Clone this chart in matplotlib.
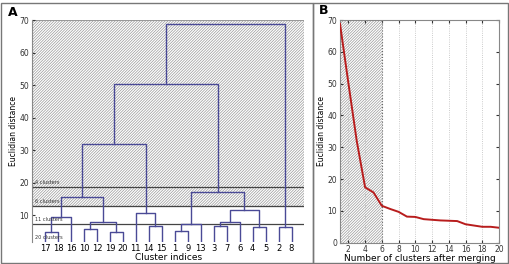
import numpy as np
import matplotlib.pyplot as plt
from matplotlib.patches import Rectangle

# dendrogram (panel A)
leaf_order = [17, 18, 16, 10, 12, 19, 20, 11, 14, 15, 1, 9, 13, 3, 7, 6, 4, 5, 2, 8]
# (a, b, height); ids above 20 point to earlier merges (21 = first row)
merges = [
    (17, 18, 4.9),
    (19, 20, 4.9),
    (1, 9, 5.2),
    (10, 12, 5.7),
    (4, 5, 6.4),
    (2, 8, 6.4),
    (3, 7, 6.6),
    (14, 15, 6.7),
    (23, 13, 7.2),
    (24, 22, 7.8),
    (27, 6, 7.8),
    (21, 16, 9.5),
    (11, 28, 10.7),
    (31, 25, 11.4),
    (32, 30, 15.7),
    (29, 34, 17.2),
    (35, 33, 31.9),
    (37, 36, 50.2),
    (38, 26, 68.9),
]
cut_labels = ['4 clusters', '6 clusters', '11 clusters', '20 clusters']
cut_heights = [18.6, 12.8, 7.3, None]

# elbow curve (panel B)
n_clusters = list(range(1, 21))
distances = [68.8, 50.2, 32.0, 17.4, 15.8, 11.6, 10.6, 9.7, 8.2, 8.1,
             7.4, 7.2, 7.0, 6.9, 6.8, 5.8, 5.4, 5.0, 5.0, 4.7]

plt.rcParams['hatch.color'] = '#bcbcbc'
plt.rcParams['hatch.linewidth'] = 0.5
HATCH = '/' * 12

fig = plt.figure(figsize=(5.10, 2.64), dpi=100)
W, H = 510, 264

# panel frames
frame_kw = dict(fill=False, edgecolor='#777777', lw=1.0, transform=fig.transFigure)
fig.patches.append(Rectangle((0.5 / W, 1.5 / H), 312 / W, 260 / H, **frame_kw))
fig.patches.append(Rectangle((312.5 / W, 1.5 / H), 195 / W, 260 / H, **frame_kw))

# ---------- panel A ----------
axA = fig.add_axes([32 / W, 1 - 241.7 / H, 272.5 / W, 221.7 / H])
pos = {lab: i + 1 for i, lab in enumerate(leaf_order)}
hgt = {lab: 0.0 for lab in leaf_order}
dcol = '#4a4a96'
for k, (a, b, h) in enumerate(merges):
    xa, xb = pos[a], pos[b]
    axA.plot([xa, xa, xb, xb], [hgt[a], h, h, hgt[b]], color=dcol, lw=1.0, zorder=3)
    pos[21 + k] = (xa + xb) / 2
    hgt[21 + k] = h

axA.add_patch(Rectangle((0, cut_heights[1]), 21, 70 - cut_heights[1], facecolor='none',
                        edgecolor='#999999', hatch=HATCH, lw=0.8, zorder=1))
for lab, h in zip(cut_labels, cut_heights):
    if h is not None:
        axA.axhline(h, color='#444444', lw=0.9, zorder=2)
        axA.text(0.25, h + 0.6, lab, fontsize=3.6, color='#333333', va='bottom')
    else:
        axA.text(0.25, 2.3, lab, fontsize=3.6, color='#333333', va='bottom')

axA.set_xlim(0, 21)
axA.set_ylim(1.8, 70)
axA.set_xticks(range(1, 21))
axA.set_xticklabels([str(v) for v in leaf_order])
axA.set_yticks(range(10, 71, 10))
axA.tick_params(axis='x', length=0, labelsize=6, pad=1.5)
axA.tick_params(axis='y', direction='in', length=2, labelsize=5.5, pad=2, colors='#333333')
for s in ['top', 'right', 'bottom']:
    axA.spines[s].set_visible(False)
axA.spines['left'].set_color('#888888')
axA.set_xlabel('Cluster indices', fontsize=6.5, labelpad=0)
axA.set_ylabel('Euclidian distance', fontsize=5.5, labelpad=1)
fig.text(8 / W, 1 - 12 / H, 'A', fontsize=9, fontweight='bold', va='center')

# ---------- panel B ----------
axB = fig.add_axes([340 / W, 1 - 242.7 / H, 159 / W, 222.7 / H])
axB.add_patch(Rectangle((1, 0), 5, 70, facecolor='none', edgecolor='#999999',
                        hatch=HATCH, lw=0, zorder=1))
axB.axvline(6, color='#666666', lw=0.8, ls=':', zorder=2)
axB.plot(n_clusters, distances, color='#b81d1d', lw=1.4, zorder=4)
axB.set_xlim(1, 20)
axB.set_ylim(0, 70)
axB.set_xticks(range(2, 21, 2))
axB.set_yticks(range(0, 71, 10))
axB.grid(axis='x', color='#bbbbbb', ls=':', lw=0.6)
axB.tick_params(direction='in', length=2, labelsize=5.5, pad=2, top=True, right=True,
                colors='#333333')
for s in axB.spines.values():
    s.set_color('#888888')
    s.set_linewidth(0.8)
axB.set_xlabel('Number of clusters after merging', fontsize=6.5, labelpad=0)
axB.set_ylabel('Euclidian distance', fontsize=5.5, labelpad=1)
fig.text(319 / W, 1 - 11 / H, 'B', fontsize=9, fontweight='bold', va='center')

fig.savefig('out.png', dpi=100)
